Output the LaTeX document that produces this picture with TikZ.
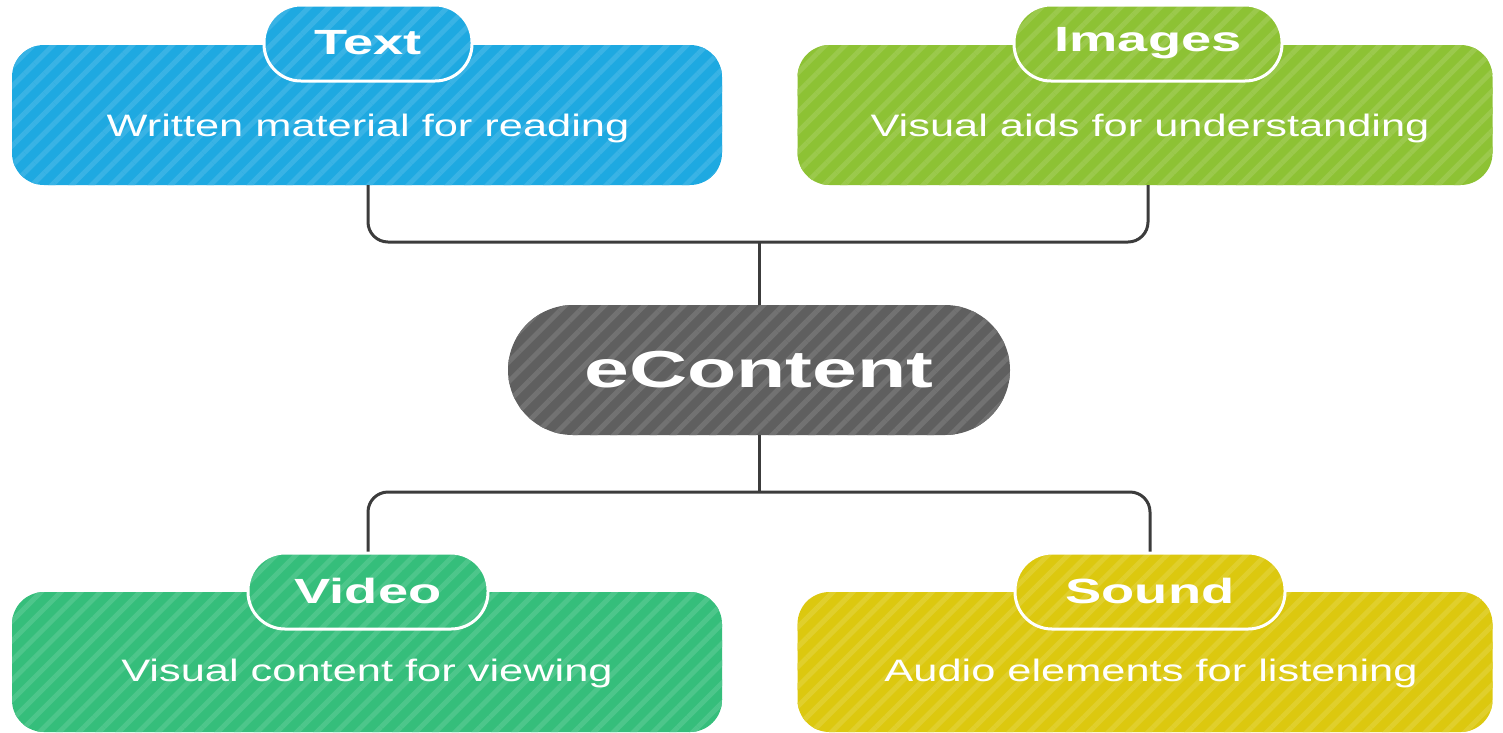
\documentclass[tikz,border=0pt]{standalone}
\usepackage{fontspec}
\usetikzlibrary{patterns.meta}
\newfontfamily\regf[FakeStretch=1.40]{Liberation Sans}
\newfontfamily\boldf[FakeStretch=1.55]{Liberation Sans}
\definecolor{cText}{HTML}{1EA9E1}
\definecolor{cImg}{HTML}{8DC234}
\definecolor{cVid}{HTML}{35BE7B}
\definecolor{cSnd}{HTML}{DCC80F}
\definecolor{cCore}{HTML}{5F5F5F}
\definecolor{cLine}{HTML}{3C3C3C}
\tikzset{
  stripes/.style={preaction={fill=#1}, preaction={pattern={Lines[angle=45,distance=14pt,line width=5pt]},pattern color=#1!88!white}},
  card/.style={rectangle, rounded corners=32pt, minimum width=710pt, minimum height=140pt,
    stripes=#1, inner sep=0pt},
  bodytext/.style={text=white, font=\regf\fontsize{31}{34}\selectfont, inner sep=0pt},
  pill/.style={rectangle, rounded corners=37pt, minimum height=76pt,
    stripes=#1, draw=white, line width=3pt, text=white,
    font=\boldf\bfseries\fontsize{35}{38}\selectfont, inner sep=0pt},
  corenode/.style={rectangle, rounded corners=65pt, minimum width=502pt, minimum height=130pt,
    stripes=cCore, text=white,
    font=\boldf\bfseries\fontsize{52}{56}\selectfont, inner sep=0pt},
  conn/.style={draw=cLine, line width=3pt, rounded corners=20pt}
}
\begin{document}
\begin{tikzpicture}[x=1pt,y=-1pt]
\useasboundingbox (0,0) rectangle (1503,732);
% cards
\node[card=cText, minimum width=710pt] (tbox) at (367,115) {};
\node[card=cImg, minimum width=695pt] (ibox) at (1145,115) {};
\node[card=cVid, minimum width=710pt] (vbox) at (367,662) {};
\node[card=cSnd, minimum width=695pt] (sbox) at (1145,662) {};
% body texts
\node[bodytext] (ttxt) at (368,128) {Written material for reading};
\node[bodytext] (itxt) at (1150,128) {Visual aids for understanding};
\node[bodytext] (vtxt) at (367,673) {Visual content for viewing};
\node[bodytext] (stxt) at (1151,673) {Audio elements for listening};
% pills
\node[pill=cText, minimum width=208pt] (tpill) at (368,43) {Text};
\node[pill=cImg, minimum width=268pt] (ipill) at (1148,43) {Images};
\node[pill=cVid, minimum width=240pt] (vpill) at (368,591) {Video};
\node[pill=cSnd, minimum width=270pt] (spill) at (1150,591) {Sound};
% core
\node[corenode] (core) at (759,370) {eContent};
% connectors
\coordinate (jt) at (759,242);
\coordinate (jb) at (759,492);
\draw[conn] (tbox.south -| tpill) -- (tpill |- jt) -- (ipill |- jt) -- (ibox.south -| ipill);
\draw[conn] (jt) -- (core.north);
\draw[conn] (core.south) -- (jb);
\draw[conn] (vpill.north) -- (vpill |- jb) -- (spill |- jb) -- (spill.north);
\end{tikzpicture}
\end{document}
